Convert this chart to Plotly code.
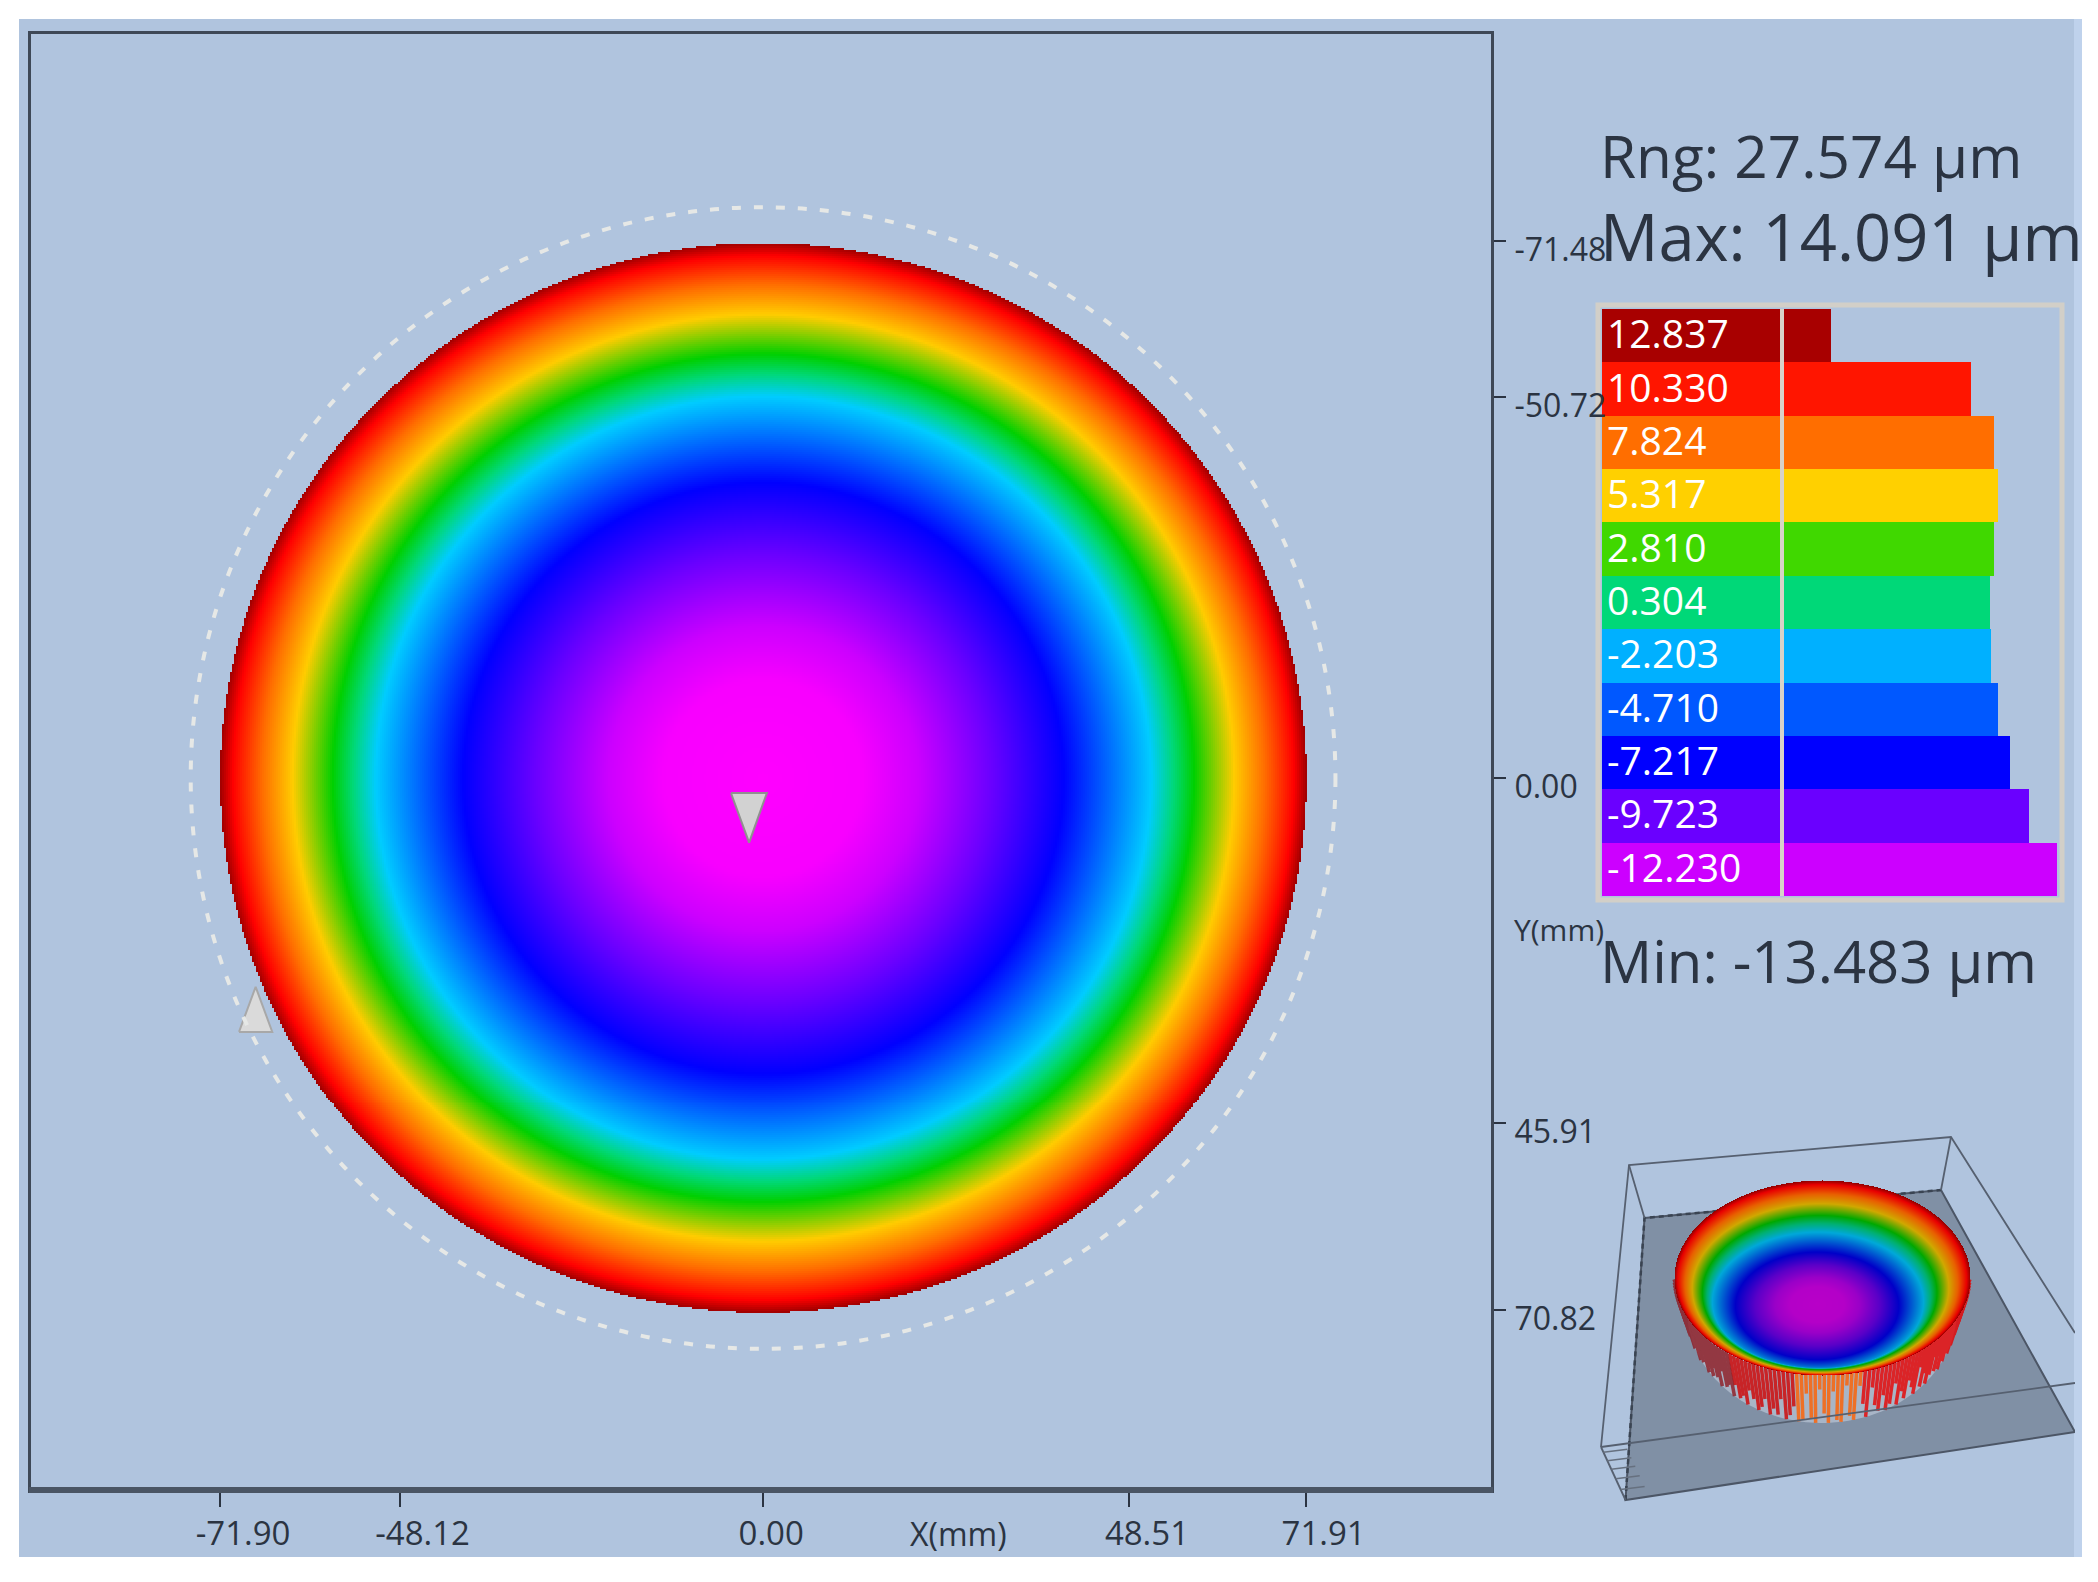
import numpy as np
import plotly.graph_objects as go

W, H = 2098, 1582

# ---------- data ----------
x_ticks = [-71.90, -48.12, 0.00, 48.51, 71.91]
x_tick_text = ["-71.90", "-48.12", "0.00", "48.51", "71.91"]
y_ticks = [-71.48, -50.72, 0.00, 45.91, 70.82]
y_tick_text = ["-71.48", "-50.72", "0.00", "45.91", "70.82"]

radius_mm = [0, 13.2, 20.5, 30.1, 39.7, 51.3, 54.3, 57.0, 62.3, 66.3, 70.2, 71.9]
height_um = [-13.48, -13.2, -11.6, -9.7, -7.2, -1.5, 0.7, 2.81, 5.3, 7.82, 11.0, 14.09]

legend_labels = ["12.837", "10.330", "7.824", "5.317", "2.810", "0.304",
                 "-2.203", "-4.710", "-7.217", "-9.723", "-12.230"]
legend_colors = ["#A80000", "#FF1500", "#FF6E00", "#FFD000", "#40D800", "#00D878",
                 "#00B0FF", "#0058FF", "#0000FF", "#6A00FF", "#CC00FF"]
legend_counts = [48, 188, 211, 215, 211, 207, 208, 215, 227, 246, 274]

# min / max marker triangles (mm)
tri_down_x = [-4.25, 0.5, -1.85, -4.25]
tri_down_y = [2.0, 2.0, 8.6, 2.0]
tri_up_x = [-69.4, -65.0, -67.2, -69.4]
tri_up_y = [33.8, 33.8, 27.8, 33.8]

# inset geometry (in the inset's own units)
floor_x = [1644.5, 1941, 2075, 1625.5, 1644.5]
floor_y = [1218, 1190, 1432, 1500, 1218]
top_x = [1601, 1629, 1951, 2075]
top_y = [1447, 1165, 1137, 1333]
front_top_x = [1601, 2075]
front_top_y = [1447, 1383]
# apparent drop of the bowl surface on screen, against radius fraction
bowl_r = [0.0, 0.55, 0.71, 0.79, 0.87, 1.0]
bowl_drop = [26, 28, 24, 15, 10, 0]
# how far each wall streak reaches, right side to left side
wall_frac = [0.3, 0.5, 0.4, 0.6, 0.8, 0.7, 0.9, 0.6, 0.85, 0.5,
             0.95, 0.7, 1.0, 0.8, 0.55, 0.95, 0.7, 1.0, 0.6, 0.9,
             0.5, 0.85, 1.0, 0.7, 0.95, 0.45, 1.0, 0.8, 0.6, 0.95,
             0.75, 1.0, 0.5, 0.9, 1.0, 0.65, 0.95, 0.8, 0.4, 1.0,
             0.7, 0.3, 1.0, 0.9, 0.25, 1.0, 0.95, 0.35, 1.0, 0.8,
             0.3, 1.0, 0.9, 0.4, 0.95, 1.0, 0.7, 0.9, 1.0, 0.6,
             0.95, 0.85, 1.0, 0.7, 0.9, 1.0, 0.8, 0.65, 1.0, 0.85,
             0.95, 0.7, 1.0, 0.8, 0.9, 0.6, 1.0, 0.85, 0.7, 0.95,
             0.8, 1.0, 0.65, 0.9, 0.75, 1.0, 0.6, 0.85, 0.95, 0.7,
             0.8, 0.55, 0.9, 0.7, 0.85, 0.6, 0.75, 0.5, 0.65, 0.45]

main_scale = [
    (-13.483, "#FF00FF"), (-11.6, "#CC00FF"), (-9.7, "#6A00FF"), (-7.2, "#0000FF"),
    (-1.5, "#00CCFF"), (0.7, "#00D878"), (2.81, "#00D000"), (5.3, "#FFCC00"),
    (7.824, "#FF6E00"), (11.0, "#FF0000"), (14.091, "#A00000"),
]
inset_colors = ["#B800C8", "#9A00C8", "#5A00C8", "#0000C8", "#00A8D8", "#00B070",
                "#00A800", "#D0A800", "#E86000", "#E80000", "#900000"]

BG = "#B0C4DE"
INK = "#2B3442"
SANS = "Open Sans, Noto Sans, sans-serif"


def px(v):
    return v / W


def py(v):
    return 1 - v / H


def cs(colors=None):
    lo, hi = main_scale[0][0], main_scale[-1][0]
    cols = colors or [c for _, c in main_scale]
    return [[(z - lo) / (hi - lo), c] for (z, _), c in zip(main_scale, cols)]


fig = go.Figure()

# Subplot order sets paint order:
#   x/y   histogram legend
#   x2/y2 main map axes (its tick labels paint over the bars); x3/y3 overlay holds the disc
#   x4/y4 inset floor and walls; x5/y5 overlay holds the inset bowl

# ---------- histogram legend ----------
fig.add_trace(go.Bar(y=legend_labels, x=[181] * 11, base=-181, orientation="h",
                     marker=dict(color=legend_colors, line=dict(width=0)),
                     hoverinfo="skip", xaxis="x", yaxis="y", width=1))
fig.add_trace(go.Bar(y=legend_labels, x=legend_counts, base=0, orientation="h",
                     marker=dict(color=legend_colors, line=dict(width=0)),
                     hoverinfo="skip", xaxis="x", yaxis="y", width=1))

# ---------- main map ----------
fig.add_trace(go.Scatter(x=tri_up_x, y=tri_up_y, mode="lines", fill="toself",
                         fillcolor="#DADADA", line=dict(color="#A8A8A8", width=2),
                         hoverinfo="skip", xaxis="x2", yaxis="y2"))

gx = np.arange(-72.6, 72.6, 0.265)
gy = np.arange(-72.0, 72.0, 0.266)
XX, YY = np.meshgrid(gx, gy)
rho = 71.9 * np.sqrt((XX / 71.9) ** 2 + (YY / 71.2) ** 2)
Z = np.interp(rho, radius_mm, height_um).astype("float32")
Z[rho > 71.9] = np.nan
fig.add_trace(go.Heatmap(x=gx, y=gy, z=Z, zmin=-13.483, zmax=14.091, colorscale=cs(),
                         showscale=False, hoverinfo="skip", xaxis="x3", yaxis="y3"))
fig.add_trace(go.Scatter(x=tri_down_x, y=tri_down_y, mode="lines", fill="toself",
                         fillcolor="#D2D2D2", line=dict(color="#909090", width=2),
                         hoverinfo="skip", xaxis="x3", yaxis="y3"))

# ---------- inset ----------
ax_low = dict(xaxis="x4", yaxis="y4", hoverinfo="skip")
ax_top = dict(xaxis="x5", yaxis="y5", hoverinfo="skip")
fig.add_trace(go.Scatter(x=floor_x, y=floor_y, mode="lines", fill="toself", fillcolor="#8090A5",
                         line=dict(color="#4C5666", width=2), **ax_low))
fig.add_trace(go.Scatter(x=[floor_x[3], floor_x[0], floor_x[1]], y=[floor_y[3], floor_y[0], floor_y[1]],
                         mode="lines", line=dict(color="#3A4452", width=2.5, dash="5px,4px"), **ax_low))
fig.add_trace(go.Scatter(x=top_x, y=top_y, mode="lines", line=dict(color="#566070", width=1.8), **ax_low))
fig.add_trace(go.Scatter(x=[top_x[1], floor_x[0], None, top_x[2], floor_x[1], None, top_x[0], floor_x[3]],
                         y=[top_y[1], floor_y[0], None, top_y[2], floor_y[1], None, top_y[0], floor_y[3]],
                         mode="lines", line=dict(color="#566070", width=1.8), **ax_low))

cx, cy, a, b = 1822.0, 1277.5, 148.0, 97.5
bx, by, ba, bb = 1822.0, 1310.0, 135.0, 113.0
t = np.linspace(0, 2 * np.pi, 120)
fig.add_trace(go.Scatter(x=bx + ba * np.cos(t), y=by + bb * np.sin(t), mode="lines", fill="toself",
                         fillcolor="#A8B5C7", line=dict(width=0), **ax_low))

frac = np.array(wall_frac)
tt = np.linspace(0.02, np.pi - 0.02, len(frac))
groups = {"#D00000": [], "#FF6000": [], "#8E1A22": [], "#E80000": []}
for ti, f in zip(tt, frac):
    if ti > 2.25:
        key = "#8E1A22"
    elif ti > 1.75:
        key = "#D00000"
    elif ti > 1.28:
        key = "#FF6000"
    else:
        key = "#E80000"
    x0, y0 = cx + a * np.cos(ti), cy + b * np.sin(ti)
    x1, y1 = bx + ba * np.cos(ti), by + bb * np.sin(ti)
    groups[key].append((x0, y0, x0 + f * (x1 - x0), y0 + f * (y1 - y0)))
for col, segs in groups.items():
    xs, ys = [], []
    for s in segs:
        xs += [s[0], s[2], None]
        ys += [s[1], s[3], None]
    fig.add_trace(go.Scatter(x=xs, y=ys, mode="lines", line=dict(color=col, width=3.5),
                             opacity=0.8, **ax_low))

ix = np.arange(cx - a - 2, cx + a + 2, 1.0)
iy = np.arange(cy - b - 2, cy + b + 2, 1.0)
IX, IY = np.meshgrid(ix, iy)
rim = ((IX - cx) / a) ** 2 + ((IY - cy) / b) ** 2
r = np.sqrt(rim)
for _ in range(14):
    drop = np.interp(r, bowl_r, bowl_drop)
    r_new = np.sqrt(((IX - cx + 5 * drop / 26) / a) ** 2 + ((IY - cy - drop) / b) ** 2)
    r = 0.5 * r + 0.5 * r_new
ZI = np.interp(r * 71.9, radius_mm, height_um).astype("float32")
ZI[rim > 1] = np.nan
fig.add_trace(go.Heatmap(x=ix, y=iy, z=ZI, zmin=-13.483, zmax=14.091, colorscale=cs(inset_colors),
                         showscale=False, **ax_top))

fig.add_trace(go.Scatter(x=front_top_x, y=front_top_y, mode="lines",
                         line=dict(color="#566070", width=1.8), **ax_top))
stair_t = [0.1, 0.26, 0.42, 0.6, 0.8]
sx, sy = [], []
for s in stair_t:
    x0 = top_x[0] + s * (floor_x[3] - top_x[0])
    y0 = top_y[0] + s * (floor_y[3] - top_y[0])
    sx += [x0, x0 + 24, None]
    sy += [y0, y0 - 3, None]
fig.add_trace(go.Scatter(x=sx, y=sy, mode="lines", line=dict(color="#66707F", width=1.5), **ax_top))

# ---------- layout ----------
shapes = [
    dict(type="rect", xref="paper", yref="paper", x0=px(19), x1=px(2080), y0=py(1557), y1=py(19),
         fillcolor=BG, line=dict(width=0), layer="below"),
    dict(type="rect", xref="paper", yref="paper", x0=px(2074), x1=px(2082), y0=py(1557), y1=py(19),
         fillcolor="#BFD2EC", line=dict(width=0), layer="below"),
    dict(type="circle", xref="x2", yref="y2", x0=-75.8, x1=75.8, y0=-76.0, y1=76.0,
         line=dict(color="#E6E8E6", width=4, dash="9px,13px"), layer="above"),
    dict(type="rect", xref="paper", yref="paper", x0=px(1598), x1=px(2062), y0=py(900), y1=py(305),
         line=dict(color="#D2CFC8", width=5), layer="below"),
    dict(type="line", xref="x", yref="paper", x0=-1, x1=-1, y0=py(896), y1=py(309),
         line=dict(color="#D8D2C8", width=4), layer="above"),
    dict(type="line", xref="paper", yref="paper", x0=px(29), x1=px(1493), y0=py(1490), y1=py(1490),
         line=dict(color="#4A5564", width=6), layer="above"),
]

ann = []
for i, label in enumerate(legend_labels):
    ann.append(dict(x=-178, y=i, xref="x", yref="y", text=label, showarrow=False, yshift=3,
                    xanchor="left", yanchor="middle", font=dict(family=SANS, size=39, color="white")))


def txt(x, y, s, size):
    ann.append(dict(x=px(x), y=py(y), xref="paper", yref="paper", text=s, showarrow=False,
                    xanchor="left", yanchor="middle", font=dict(family=SANS, size=size, color=INK)))


txt(1598, 155, "Rng: 27.574 µm", 58.5)
txt(1598, 236, "Max: 14.091 µm", 65)
txt(1598, 960, "Min: -13.483 µm", 58)
txt(908, 1533, "X(mm)", 32)
txt(1512, 930, "Y(mm)", 30)

RX = [-96.95, 96.4]
RY = [94.8, -99.07]
DX = [px(31), px(1491)]
DY = [py(1490), py(34)]

fig.update_layout(
    width=W, height=H, autosize=False, margin=dict(l=0, r=0, t=0, b=0),
    paper_bgcolor="white", plot_bgcolor="rgba(0,0,0,0)", showlegend=False,
    barmode="overlay", bargap=0, shapes=shapes, annotations=ann,
    xaxis=dict(domain=[px(1602), px(2060)], range=[-181, 277], visible=False, anchor="y"),
    yaxis=dict(domain=[py(896), py(309)], range=[10.5, -0.5], type="category", visible=False, anchor="x",
               categoryorder="array", categoryarray=legend_labels),
    xaxis2=dict(domain=DX, range=RX, tickmode="array", tickvals=x_ticks,
                ticktext=x_tick_text, ticks="outside", ticklen=14, tickwidth=2, tickcolor=INK,
                showline=True, mirror=True, linecolor="#3E4856", linewidth=3, showgrid=False, zeroline=False,
                ticklabelposition="outside right", ticklabelshift=-27, ticklabelstandoff=12,
                tickfont=dict(family=SANS, size=33, color=INK), anchor="y2"),
    yaxis2=dict(domain=DY, range=RY, tickmode="array", tickvals=y_ticks,
                ticktext=y_tick_text, side="right", ticks="outside", ticklen=12, tickwidth=2, tickcolor=INK,
                showline=True, mirror=True, linecolor="#3E4856", linewidth=3, showgrid=False, zeroline=False,
                ticklabelshift=-9, ticklabelstandoff=2, tickfont=dict(family=SANS, size=32, color=INK),
                anchor="x2"),
    xaxis3=dict(domain=DX, range=RX, visible=False, overlaying="x2", anchor="y3"),
    yaxis3=dict(domain=DY, range=RY, visible=False, overlaying="y2", anchor="x3"),
    xaxis4=dict(domain=[px(1560), px(2075)], range=[1560, 2075], visible=False, anchor="y4"),
    yaxis4=dict(domain=[py(1540), py(1120)], range=[1540, 1120], visible=False, anchor="x4"),
    xaxis5=dict(domain=[px(1560), px(2075)], range=[1560, 2075], visible=False, overlaying="x4", anchor="y5"),
    yaxis5=dict(domain=[py(1540), py(1120)], range=[1540, 1120], visible=False, overlaying="y4", anchor="x5"),
)

fig.write_html("out.html", config={"displayModeBar": False},
               post_script="document.body.style.margin='0';document.body.style.overflow='hidden';")
